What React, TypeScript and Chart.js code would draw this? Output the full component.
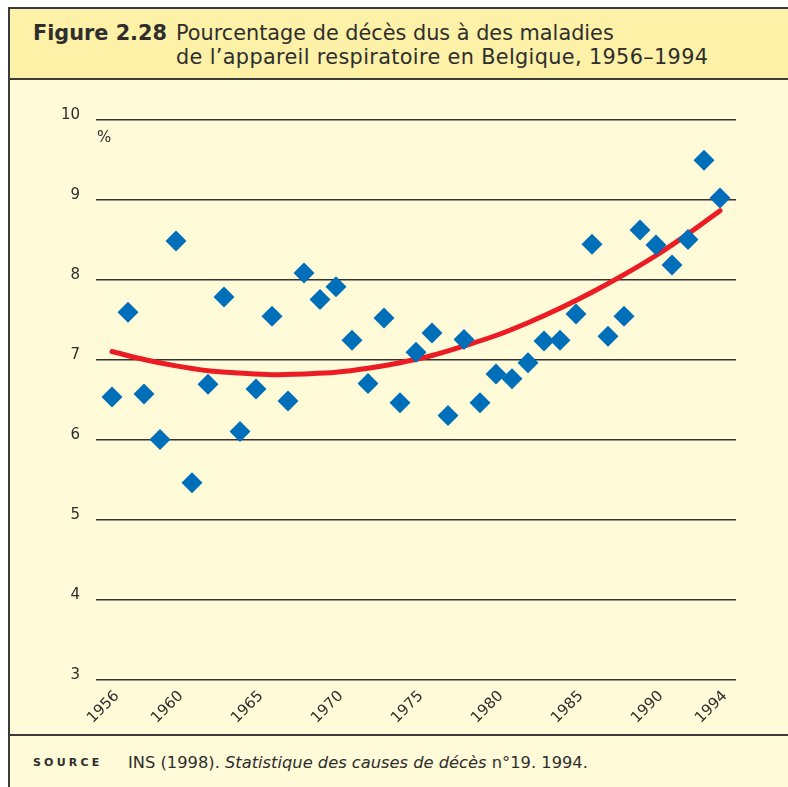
import React, { useEffect, useRef } from "react";
import { Chart, registerables } from "chart.js";

Chart.register(...registerables);

const YEARS = [
  1956, 1957, 1958, 1959, 1960, 1961, 1962, 1963, 1964, 1965,
  1966, 1967, 1968, 1969, 1970, 1971, 1972, 1973, 1974, 1975,
  1976, 1977, 1978, 1979, 1980, 1981, 1982, 1983, 1984, 1985,
  1986, 1987, 1988, 1989, 1990, 1991, 1992, 1993, 1994,
];
const DEATH_SHARE = [
  6.53, 7.59, 6.57, 6.0, 8.48, 5.46, 6.69, 7.78, 6.1, 6.63,
  7.54, 6.48, 8.08, 7.75, 7.91, 7.24, 6.7, 7.52, 6.46, 7.09,
  7.33, 6.3, 7.25, 6.46, 6.82, 6.76, 6.96, 7.23, 7.24, 7.57,
  8.44, 7.29, 7.54, 8.62, 8.43, 8.18, 8.5, 9.49, 9.02,
];
const TREND_YEARS = [
  1956, 1958, 1960, 1962, 1964, 1966, 1968, 1970, 1972, 1974,
  1976, 1978, 1980, 1982, 1984, 1986, 1988, 1990, 1992, 1994,
];
const TREND_VALUES = [
  7.1, 7.0, 6.92, 6.86, 6.83, 6.81, 6.82, 6.84, 6.89, 6.96,
  7.05, 7.17, 7.3, 7.46, 7.64, 7.84, 8.06, 8.3, 8.57, 8.86,
];
const X_TICKS = [1956, 1960, 1965, 1970, 1975, 1980, 1985, 1990, 1994];
const Y_MIN = 3;
const Y_MAX = 10;

const TEXT = "#2e2e2e";
const FONT = "'DejaVu Sans', Verdana, sans-serif";

export default function App() {
  const ref = useRef<HTMLCanvasElement | null>(null);

  useEffect(() => {
    document.documentElement.style.overflow = "hidden";
    document.body.style.overflow = "hidden";
    const canvas = ref.current;
    if (!canvas) return;

    const percentPlugin = {
      id: "percentLabel",
      afterDraw(chart: any) {
        const { ctx, chartArea, scales } = chart;
        const y = scales.y.getPixelForValue(Y_MAX);
        ctx.save();
        ctx.fillStyle = TEXT;
        ctx.font = `15px ${FONT}`;
        ctx.textAlign = "left";
        ctx.textBaseline = "middle";
        ctx.fillText("%", chartArea.left + 1, y + 19);
        ctx.restore();
      },
    };

    const chart = new Chart(canvas, {
      type: "scatter",
      data: {
        datasets: [
          {
            label: "Décès",
            data: YEARS.map((x, i) => ({ x, y: DEATH_SHARE[i] })),
            pointStyle: "rectRot",
            pointRadius: 10.5,
            pointHoverRadius: 10.5,
            pointBorderWidth: 0,
            backgroundColor: "#006fb9",
            borderColor: "#006fb9",
          },
          {
            label: "Tendance",
            data: TREND_YEARS.map((x, i) => ({ x, y: TREND_VALUES[i] })),
            showLine: true,
            pointRadius: 0,
            borderColor: "#ec1c24",
            borderWidth: 5,
            borderCapStyle: "round",
            cubicInterpolationMode: "monotone",
            fill: false,
          } as any,
        ],
      },
      options: {
        animation: false,
        responsive: false,
        maintainAspectRatio: false,
        layout: { padding: { top: 38.5, right: 52, left: 0, bottom: 0 } },
        plugins: {
          legend: { display: false },
          tooltip: { enabled: false },
          title: { display: false },
        },
        scales: {
          x: {
            type: "linear",
            min: 1955,
            max: 1995,
            border: { display: false },
            grid: { display: false, drawTicks: false },
            afterBuildTicks: (scale: any) => {
              scale.ticks = X_TICKS.map((v) => ({ value: v }));
            },
            afterFit: (scale: any) => {
              scale.height = 54.5;
            },
            ticks: {
              autoSkip: false,
              minRotation: 45,
              maxRotation: 45,
              padding: 8,
              labelOffset: 5,
              color: TEXT,
              font: { family: FONT, size: 15 },
              callback: (v: any) => String(v),
            },
          },
          y: {
            type: "linear",
            min: Y_MIN,
            max: Y_MAX,
            border: { display: false },
            grid: {
              color: "#333333",
              lineWidth: 1.4,
              drawTicks: false,
            },
            afterFit: (scale: any) => {
              scale.width = 86;
            },
            ticks: {
              stepSize: 1,
              padding: 16,
              labelOffset: -4,
              color: TEXT,
              font: { family: FONT, size: 15 },
            },
          },
        },
      },
      plugins: [percentPlugin],
    });
    return () => chart.destroy();
  }, []);

  return (
    <div
      style={{
        position: "fixed",
        left: 8,
        top: 7,
        width: 840,
        height: 840,
        boxSizing: "border-box",
        borderLeft: "2px solid #3a3a3a",
        borderTop: "2px solid #3a3a3a",
        background: "#fffad7",
        overflow: "hidden",
        fontFamily: FONT,
        color: TEXT,
      }}
    >
      <div
        style={{
          position: "absolute",
          left: 0,
          top: 0,
          width: 838,
          height: 69,
          background: "#fcf1a6",
          borderBottom: "2px solid #3a3a3a",
        }}
      >
        <div
          style={{
            position: "absolute",
            left: 23,
            top: 12,
            fontSize: 20.8,
            lineHeight: "24px",
            fontWeight: "bold",
            whiteSpace: "nowrap",
          }}
        >
          Figure 2.28
        </div>
        <div
          style={{
            position: "absolute",
            left: 166,
            top: 12,
            fontSize: 20.8,
            lineHeight: "24px",
            whiteSpace: "nowrap",
          }}
        >
          <div>Pourcentage de décès dus à des maladies</div>
          <div style={{ letterSpacing: 0.35 }}>
            de l’appareil respiratoire en Belgique, 1956–1994
          </div>
        </div>
      </div>
      <canvas
        ref={ref}
        width={778}
        height={653}
        style={{ position: "absolute", left: 0, top: 72, width: 778, height: 653 }}
      />
      <div
        style={{
          position: "absolute",
          left: 0,
          top: 725,
          width: 838,
          height: 0,
          borderTop: "2px solid #3a3a3a",
        }}
      />
      <div
        style={{
          position: "absolute",
          left: 23,
          top: 745,
          height: 18,
          lineHeight: "18px",
          fontSize: 11,
          fontWeight: "bold",
          letterSpacing: 3.2,
          whiteSpace: "nowrap",
        }}
      >
        SOURCE
      </div>
      <div
        style={{
          position: "absolute",
          left: 118,
          top: 744,
          height: 20,
          lineHeight: "20px",
          fontSize: 16.3,
          whiteSpace: "nowrap",
        }}
      >
        INS (1998). <i>Statistique des causes de décès</i> n°19. 1994.
      </div>
    </div>
  );
}
